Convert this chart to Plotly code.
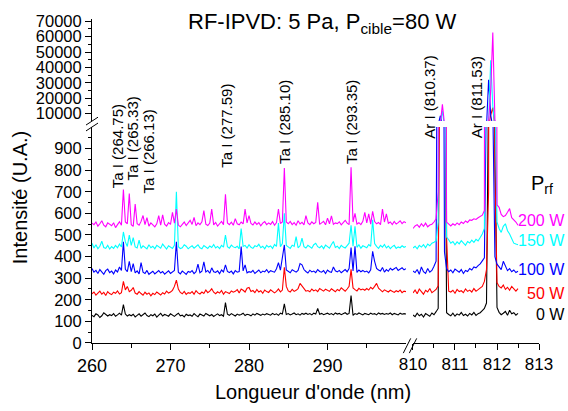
import plotly.graph_objects as go

# ---------------- data ----------------
LEFT_START, LEFT_STEP = 260.0, 0.25     # nm, sampling grid of left panel
RIGHT_START, RIGHT_STEP = 810.0, 0.05   # nm, sampling grid of right panel

series_names = ["0 W", "50 W", "100 W", "150 W", "200 W"]
series_colors = ["#000000", "#FF0000", "#0000FF", "#00FFFF", "#FF00FF"]

black_left = [
    128, 122, 135, 130, 118, 126, 140, 132, 125, 131,
    127, 136, 124, 130, 138, 129, 178, 134, 125, 131,
    126, 133, 121, 128, 135, 124, 130, 139, 127, 122,
    131, 126, 134, 120, 129, 137, 125, 132, 128, 124,
    135, 127, 123, 131, 138, 126, 129, 121, 133, 127,
    130, 124, 136, 128, 122, 134, 129, 125, 137, 130,
    126, 132, 123, 129, 135, 127, 131, 124, 187, 133,
    128, 136, 130, 125, 134, 129, 132, 138, 127, 133,
    131, 126, 135, 129, 137, 132, 128, 134, 130, 136,
    133, 129, 137, 131, 135, 128, 138, 134, 181, 132,
    136, 130, 134, 139, 131, 135, 129, 137, 133, 138,
    132, 136, 130, 138, 134, 160, 133, 137, 131, 135,
    138, 132, 136, 130, 139, 134, 137, 131, 135, 140,
    133, 137, 220, 128, 136, 132, 139, 134, 130, 137,
    135, 131, 138, 133, 136, 130, 139, 134, 137, 132,
    136, 133, 139, 131, 137, 134, 130, 138, 133, 136,
    134]

red_left = [
    228, 236, 222, 232, 240, 226, 234, 220, 238, 229,
    224, 235, 230, 241, 227, 233, 285, 246, 262, 238,
    244, 257, 231, 226, 238, 229, 221, 235, 226, 232,
    218, 230, 224, 236, 228, 222, 233, 227, 240, 231,
    236, 244, 262, 291, 250, 234, 228, 239, 225, 233,
    230, 238, 226, 242, 232, 227, 236, 229, 245, 233,
    240, 251, 235, 228, 237, 231, 243, 226, 238, 234,
    229, 241, 235, 239, 247, 232, 250, 244, 236, 254,
    257, 238, 243, 233, 248, 236, 242, 230, 245, 238,
    234, 246, 240, 232, 239, 250, 237, 245, 350, 262,
    241, 236, 248, 239, 244, 252, 276, 262, 248, 240,
    243, 237, 250, 241, 246, 238, 252, 244, 240, 249,
    245, 239, 251, 243, 237, 248, 242, 255, 246, 240,
    250, 262, 341, 255, 247, 241, 253, 246, 250, 244,
    252, 245, 258, 250, 262, 276, 254, 243, 237, 246,
    240, 236, 244, 238, 234, 242, 237, 245, 233, 240,
    238]

blue_left = [
    345, 328, 336, 322, 340, 331, 318, 335, 342, 326,
    333, 320, 338, 329, 352, 336, 469, 341, 330, 378,
    330, 368, 325, 334, 320, 372, 328, 322, 336, 318,
    326, 332, 320, 329, 335, 324, 331, 319, 327, 334,
    322, 330, 336, 469, 328, 320, 333, 326, 318, 331,
    327, 335, 321, 330, 365, 325, 332, 376, 329, 336,
    323, 348, 330, 327, 334, 321, 338, 329, 362, 331,
    326, 333, 320, 335, 328, 331, 446, 334, 362, 325,
    330, 327, 336, 322, 331, 338, 325, 333, 329, 340,
    326, 335, 331, 328, 344, 372, 337, 390, 454, 338,
    330, 325, 339, 333, 328, 336, 368, 362, 340, 331,
    324, 337, 329, 333, 326, 340, 331, 328, 335, 322,
    338, 330, 327, 352, 334, 329, 336, 325, 333, 340,
    330, 345, 442, 334, 448, 327, 338, 330, 336, 329,
    333, 325, 339, 424, 378, 345, 338, 333, 350, 328,
    340, 332, 346, 338, 344, 350, 336, 342, 348, 339,
    344]

cyan_left = [
    462, 440, 455, 436, 448, 471, 442, 438, 452, 435,
    446, 438, 452, 441, 458, 445, 514, 468, 447, 500,
    452, 488, 445, 440, 476, 438, 450, 443, 436, 455,
    441, 448, 436, 452, 444, 439, 458, 447, 435, 450,
    443, 438, 452, 700, 446, 437, 441, 455, 448, 436,
    444, 450, 439, 447, 455, 441, 436, 451, 445, 438,
    449, 442, 456, 440, 447, 437, 452, 444, 500, 446,
    439, 453, 445, 441, 448, 436, 530, 447, 452, 440,
    455, 443, 438, 450, 446, 457, 441, 448, 436, 452,
    444, 449, 438, 456, 447, 555, 446, 460, 600, 452,
    445, 438, 453, 447, 492, 441, 450, 485, 446, 440,
    452, 444, 439, 455, 462, 446, 441, 450, 437, 453,
    445, 439, 456, 470, 442, 448, 437, 452, 444, 440,
    451, 462, 545, 448, 540, 443, 455, 439, 450, 446,
    441, 456, 448, 570, 460, 447, 438, 452, 444, 456,
    440, 449, 437, 446, 452, 438, 445, 441, 450, 443,
    447]

magenta_left = [
    555, 548, 560, 541, 552, 566, 545, 538, 556, 549,
    543, 557, 534, 548, 561, 545, 711, 560, 552, 692,
    548, 540, 643, 552, 545, 563, 590, 548, 580, 541,
    556, 547, 538, 552, 590, 546, 593, 550, 541, 557,
    549, 605, 555, 620, 546, 538, 552, 560, 544, 556,
    568, 549, 582, 543, 556, 548, 561, 613, 550, 544,
    555, 620, 547, 558, 541, 552, 563, 548, 688, 556,
    548, 559, 545, 576, 552, 547, 560, 551, 620, 556,
    590, 553, 546, 560, 549, 557, 543, 555, 562, 548,
    556, 549, 562, 545, 558, 620, 553, 560, 810, 560,
    552, 563, 548, 557, 545, 566, 551, 559, 547, 590,
    556, 548, 561, 552, 558, 651, 549, 556, 563, 547,
    578, 552, 588, 549, 556, 553, 561, 547, 556, 568,
    555, 548, 814, 560, 600, 551, 557, 548, 563, 605,
    556, 598, 550, 610, 562, 552, 558, 548, 620, 560,
    598, 554, 560, 548, 563, 551, 557, 566, 553, 562,
    556]

black_right = [
    130, 122, 138, 126, 133, 120, 136, 128, 124, 139, 131,
    145, 160, 2600, 4200, 1800, 140,
    132, 126, 138, 124, 135, 129, 141, 127, 133, 125, 137, 130, 142, 128, 136, 140, 150,
    160, 185, 1200, 4500, 3800, 900, 165,
    142, 131, 138, 146, 128, 152, 135, 140, 129, 137]

red_right = [
    232, 245, 228, 250, 238, 226, 244, 236, 252, 233, 240, 248,
    265, 1800, 4800, 2500, 490, 240,
    236, 244, 230, 248, 238, 242, 233, 250, 239, 245, 236, 252, 240, 247, 255,
    262, 285, 340, 700, 9000, 13800, 800, 280, 262,
    255, 268, 248, 258, 244, 262, 250, 240, 252]

blue_right = [
    333, 326, 340, 318, 352, 330, 322, 345, 328, 336, 355, 379,
    2500, 8500, 3000, 420, 345,
    330, 338, 325, 342, 334, 328, 340, 322, 336, 331, 345, 338, 352, 348, 358, 366, 380, 394,
    1200, 31900, 9000, 1100, 400, 365,
    352, 340, 378, 360, 335, 344, 330, 338, 326, 332]

cyan_right = [
    440, 448, 436, 452, 444, 455, 441, 458, 450, 462, 466, 472,
    560, 3500, 11700, 1500, 490, 478,
    462, 470, 455, 468, 459, 474, 461, 452, 470, 463, 476, 466, 480, 472, 488, 505, 530,
    800, 4000, 44600, 15000, 1200, 560,
    530, 512, 540, 552, 520, 505, 480, 462, 458, 455]

magenta_right = [
    530, 542, 548, 536, 552, 540, 555, 538, 546, 550, 560, 575,
    700, 3000, 15900, 3000, 560, 550,
    542, 552, 545, 556, 548, 560, 553, 565, 558, 570, 568, 575, 572, 580, 585, 592, 613,
    900, 5000, 25000, 62700, 6000, 640,
    628, 595, 585, 590, 605, 622, 580, 572, 560, 545]

ta_lines = ["Ta I (264.75)", "Ta I (265.33)", "Ta I (266.13)",
            "Ta I (277.59)", "Ta I (285.10)", "Ta I (293.35)"]
ta_label_x = [263.18, 265.22, 267.13, 277.2, 284.59, 293.12]
ta_label_y = [707, 743, 683, 802, 820, 820]
ar_lines = ["Ar I (810.37)", "Ar I (811.53)"]
ar_label_x = [810.40, 811.52]
ar_label_y = [938, 938]

left_series = [black_left, red_left, blue_left, cyan_left, magenta_left]
right_series = [black_right, red_right, blue_right, cyan_right, magenta_right]

wl_left = [round(LEFT_START + LEFT_STEP * i, 3) for i in range(len(black_left))]
wl_right = [round(RIGHT_START + RIGHT_STEP * j, 3) for j in range(len(black_right))]

# ---------------- figure ----------------
FONT = "Liberation Sans, Arial, sans-serif"
fig = go.Figure()
for name, color, yl, yr in zip(series_names, series_colors, left_series, right_series):
    ln = dict(color=color, width=1.1)
    fig.add_trace(go.Scatter(x=wl_left, y=yl, xaxis="x", yaxis="y", mode="lines",
                             line=ln, name=name, showlegend=False, hoverinfo="skip"))
    fig.add_trace(go.Scatter(x=wl_right, y=yr, xaxis="x2", yaxis="y", mode="lines",
                             line=ln, name=name, showlegend=False, hoverinfo="skip"))
    fig.add_trace(go.Scatter(x=wl_right, y=yr, xaxis="x2", yaxis="y2", mode="lines",
                             line=ln, name=name, showlegend=False, hoverinfo="skip"))

axis_common = dict(showline=True, linecolor="black", linewidth=1, ticks="outside",
                   ticklen=6, tickwidth=1, tickcolor="black", showgrid=False,
                   zeroline=False)

fig.update_layout(
    width=568, height=411,
    margin=dict(l=92, r=29, t=13, b=68, pad=0),
    paper_bgcolor="white", plot_bgcolor="white", showlegend=False,
    font=dict(family=FONT, color="black", size=16),
    xaxis=dict(axis_common, domain=[0, 0.7025], range=[260, 300], anchor="y",
               tickvals=[260, 270, 280, 290], tickfont=dict(size=18),
               minor=dict(tickvals=[265, 275, 285, 295], ticks="outside",
                          ticklen=3.5, tickcolor="black", tickwidth=1)),
    xaxis2=dict(axis_common, domain=[0.7181, 1], range=[810, 813], anchor="y",
                tickvals=[810, 811, 812, 813], tickfont=dict(size=17),
                minor=dict(tickvals=[810.5, 811.5, 812.5], ticks="outside",
                           ticklen=3.5, tickcolor="black", tickwidth=1)),
    yaxis=dict(axis_common, domain=[0, 0.6667], range=[0, 1000], anchor="x",
               tickvals=list(range(0, 1000, 100)), tickfont=dict(size=16.5),
               minor=dict(tickvals=list(range(50, 1000, 100)), ticks="outside",
                          ticklen=3.5, tickcolor="black", tickwidth=1)),
    yaxis2=dict(axis_common, domain=[0.6848, 1], range=[5000, 71500], anchor="x",
                tickvals=list(range(10000, 70001, 10000)), tickformat="d",
                tickfont=dict(size=16.5),
                minor=dict(tickvals=list(range(15000, 70000, 10000)), ticks="outside",
                           ticklen=3.5, tickcolor="black", tickwidth=1)),
)

# axis break marks (decoration)
def px2paper(px, py):
    return (px - 92) / 447.0, (343 - py) / 330.0

for (xa, ya, xb, yb) in [(403.3, 353.3, 410.7, 338.3), (409.3, 353.3, 416.7, 338.3),
                         (86, 121, 98, 113), (86, 127, 98, 119)]:
    x0, y0 = px2paper(xa, ya)
    x1, y1 = px2paper(xb, yb)
    fig.add_shape(type="line", xref="paper", yref="paper", x0=x0, y0=y0, x1=x1, y1=y1,
                  line=dict(color="black", width=1))

annotations = []
# title
annotations.append(dict(text="RF-IPVD: 5 Pa, P<sub>cible</sub>=80 W", xref="paper", yref="paper",
                        x=(322 - 92) / 447, y=(343 - 17) / 330, xanchor="center", yanchor="middle",
                        showarrow=False, font=dict(size=22, family=FONT, color="black")))
# axis titles
annotations.append(dict(text="Intensité (U.A.)", xref="paper", yref="paper",
                        x=(19.5 - 92) / 447, y=(343 - 195) / 330, textangle=-90,
                        xanchor="center", yanchor="middle", showarrow=False,
                        font=dict(size=20, family=FONT, color="black")))
annotations.append(dict(text="Longueur d'onde (nm)", xref="paper", yref="paper",
                        x=(313 - 92) / 447, y=(343 - 393) / 330,
                        xanchor="center", yanchor="middle", showarrow=False,
                        font=dict(size=20, family=FONT, color="black")))
# line labels
for t, x, y in zip(ta_lines, ta_label_x, ta_label_y):
    annotations.append(dict(text=t, xref="x", yref="y", x=x, y=y, textangle=-90,
                            xanchor="center", yanchor="bottom", showarrow=False,
                            font=dict(size=15, family=FONT, color="black")))
for t, x, y in zip(ar_lines, ar_label_x, ar_label_y):
    annotations.append(dict(text=t, xref="x2", yref="y", x=x, y=y, textangle=-90,
                            xanchor="center", yanchor="bottom", showarrow=False,
                            font=dict(size=15, family=FONT, color="black")))
# legend-like labels
annotations.append(dict(text="P<sub>rf</sub>", xref="paper", yref="paper",
                        x=(529 - 92) / 447, y=(343 - 182) / 330, xanchor="left", yanchor="middle",
                        showarrow=False, font=dict(size=20, family=FONT, color="black")))
legend_py = [314, 293, 268, 239, 218]
for name, color, py in zip(series_names, series_colors, legend_py):
    annotations.append(dict(text=name, xref="paper", yref="paper",
                            x=(567 - 92) / 447, y=(343 - py) / 330, xanchor="right", yanchor="middle",
                            showarrow=False, font=dict(size=16, family=FONT, color=color)))
fig.update_layout(annotations=annotations)

fig.write_html("out.html", config={"displayModeBar": False},
               post_script="document.body.style.margin='0px';document.body.style.padding='0px';")
